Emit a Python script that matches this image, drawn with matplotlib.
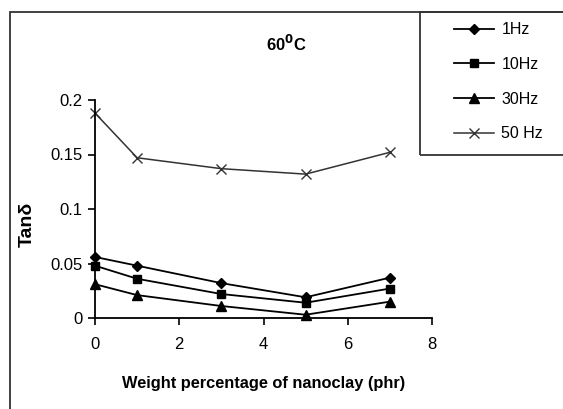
import numpy as np
import matplotlib.pyplot as plt
from matplotlib.patches import Rectangle

plt.rcParams['font.family'] = ['Liberation Sans', 'DejaVu Sans']

# data
phr = [0, 1, 3, 5, 7]
tan_1hz = [0.056, 0.048, 0.032, 0.019, 0.037]
tan_10hz = [0.048, 0.036, 0.022, 0.014, 0.027]
tan_30hz = [0.031, 0.021, 0.011, 0.003, 0.015]
tan_50hz = [0.188, 0.147, 0.137, 0.132, 0.152]
labels = ['1Hz', '10Hz', '30Hz', '50 Hz']

W, H = 563, 409
fig = plt.figure(figsize=(W / 100, H / 100), dpi=100)

# outer frame and legend box, in pixels
fig.patches.append(Rectangle((10 / W, -0.1), 1.2, 1 - 12 / H + 0.1,
                             transform=fig.transFigure, fill=False,
                             edgecolor='#333333', lw=1.3))
fig.patches.append(Rectangle((420 / W, 1 - 155 / H), 0.5, 143 / H,
                             transform=fig.transFigure, fill=False,
                             edgecolor='#333333', lw=1.3))

ax = fig.add_axes([95 / W, 1 - 318 / H, 337 / W, 218 / H])

ax.plot(phr, tan_1hz, color='black', lw=1.3, marker='D', ms=5.5, label=labels[0])
ax.plot(phr, tan_10hz, color='black', lw=1.3, marker='s', ms=5.5, label=labels[1])
ax.plot(phr, tan_30hz, color='black', lw=1.3, marker='^', ms=6.5, label=labels[2])
ax.plot(phr, tan_50hz, color='#333333', lw=1.1, marker='x', ms=7, mew=1.0,
        label=labels[3])

ax.set_xlim(0, 8)
ax.set_ylim(0, 0.2)
ax.set_xticks([0, 2, 4, 6, 8])
ax.set_yticks([0, 0.05, 0.1, 0.15, 0.2])
ax.set_yticklabels(['0', '0.05', '0.1', '0.15', '0.2'])
for s in ['top', 'right']:
    ax.spines[s].set_visible(False)
for s in ['left', 'bottom']:
    ax.spines[s].set_linewidth(1.3)
ax.tick_params(direction='out', length=5, width=1.2, labelsize=12)
ax.tick_params(axis='x', pad=9)
ax.tick_params(axis='y', pad=4)
for ln in ax.lines:
    ln.set_clip_on(False)

ax.set_xlabel('Weight percentage of nanoclay (phr)', fontsize=11.8,
              fontweight='bold', labelpad=17)
fig.text(27 / W, 1 - 224 / H, 'Tanδ', fontsize=14, fontweight='bold',
         rotation=90, ha='center', va='center')
fig.text(286 / W, 1 - 44 / H, '60$^{\\mathbf{0}}$C', fontsize=12,
         fontweight='bold', ha='center', va='center')

fig.legend(loc='upper left', bbox_to_anchor=(440 / W, 1 - 8 / H),
           frameon=False, fontsize=11.5, handlelength=2.5,
           labelspacing=1.23, handletextpad=0.45)

fig.savefig('out.png', dpi=100)
